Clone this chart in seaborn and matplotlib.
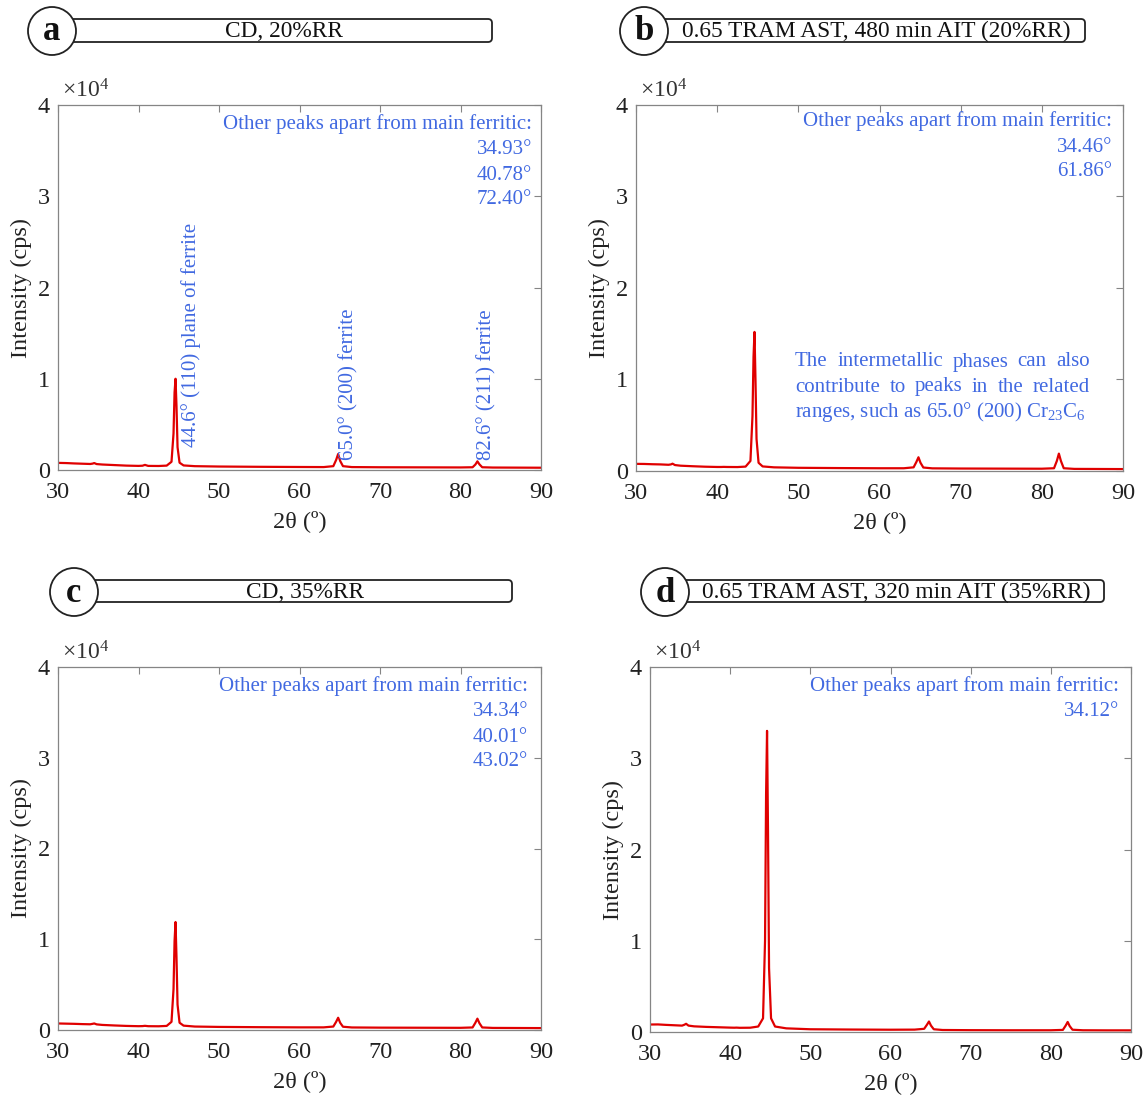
import matplotlib
matplotlib.use("Agg")
import matplotlib.pyplot as plt
import numpy as np
import pandas as pd
import seaborn as sns
from matplotlib.patches import Ellipse, FancyBboxPatch

# ---------------- data ----------------
two_theta = [30, 31, 32, 33, 34, 34.3, 34.5, 34.8, 35.5, 37, 38.5, 40, 40.5, 40.8, 41.2,
             42.5, 43.5, 44.1, 44.35, 44.48, 44.6, 44.72, 44.85, 45.1, 45.6, 47, 50, 55,
             60, 63, 64.2, 64.55, 64.8, 65.05, 65.4, 66.5, 70, 75, 80, 81.5, 81.85, 82.1,
             82.35, 82.7, 84, 87, 90]

int_a = [780, 760, 720, 690, 660, 700, 760, 650, 600, 540, 480, 450, 470, 560, 450,
         440, 480, 900, 4000, 8500, 10000, 7000, 2500, 800, 500, 420, 380, 350,
         330, 320, 420, 1100, 1750, 1000, 420, 320, 300, 290, 280, 300, 600, 950,
         620, 300, 270, 260, 250]

int_b = [780, 770, 740, 720, 680, 720, 800, 650, 580, 520, 470, 440, 440, 450, 440,
         430, 480, 1100, 6000, 12500, 15200, 10000, 3500, 900, 500, 400, 350, 320,
         300, 300, 400, 1000, 1500, 900, 380, 290, 270, 260, 250, 300, 1100, 1900,
         1100, 300, 230, 220, 210]

int_c = [720, 700, 680, 650, 630, 680, 720, 620, 560, 500, 450, 420, 430, 460, 420,
         410, 450, 900, 4500, 9800, 11900, 8000, 2800, 800, 480, 380, 340, 310,
         290, 290, 380, 900, 1350, 800, 360, 280, 260, 250, 240, 280, 800, 1250,
         750, 280, 230, 220, 210]

int_d = [820, 830, 780, 740, 700, 800, 900, 700, 620, 560, 520, 480, 470, 480, 460,
         470, 600, 1500, 10000, 26000, 33000, 22000, 7000, 1500, 600, 400, 300, 270,
         250, 260, 350, 800, 1150, 700, 300, 220, 200, 190, 190, 230, 700, 1100,
         650, 250, 190, 180, 180]

panel_letters = ["a", "b", "c", "d"]
panel_titles = ["CD, 20%RR",
                "0.65 TRAM AST, 480 min AIT (20%RR)",
                "CD, 35%RR",
                "0.65 TRAM AST, 320 min AIT (35%RR)"]
other_peaks = [["34.93°", "40.78°", "72.40°"],
               ["34.46°", "61.86°"],
               ["34.34°", "40.01°", "43.02°"],
               ["34.12°"]]
peak_labels_a = ["44.6° (110) plane of ferrite", "65.0° (200) ferrite", "82.6° (211) ferrite"]
note_b = ["The intermetallic phases can also",
          "contribute to peaks in the related",
          "ranges, such as 65.0° (200) Cr$_{23}$C$_{6}$"]
x_ticks = [30, 40, 50, 60, 70, 80, 90]
y_ticks = [0, 10000, 20000, 30000, 40000]
y_tick_labels = ["0", "1", "2", "3", "4"]

frames = []
for p, vals in zip(panel_letters, [int_a, int_b, int_c, int_d]):
    frames.append(pd.DataFrame({"two_theta": two_theta, "intensity": vals, "panel": p}))
df = pd.concat(frames, ignore_index=True)

# ---------------- style ----------------
sns.set_theme(style="white")
plt.rcParams['font.family'] = ['Liberation Serif', 'DejaVu Serif']
plt.rcParams['mathtext.fontset'] = 'custom'
plt.rcParams['mathtext.rm'] = 'Liberation Serif'
plt.rcParams['mathtext.it'] = 'Liberation Serif:italic'
plt.rcParams['mathtext.bf'] = 'Liberation Serif:bold'

RED = "#E00000"
BLUE = "#4169E1"
SPINE = "#858585"
TXT = "#222222"
FS_TICK = 17.5
FS_NOTE = 15

W, H = 1148, 1098
fig = plt.figure(figsize=(W / 100, H / 100), dpi=100)
fig.patch.set_facecolor("white")

axes_px = [(58, 105, 541, 470), (636, 105, 1123, 471),
           (58, 667, 541, 1030), (650, 667, 1131, 1032)]

axes = []
for (l, t, r, b), p in zip(axes_px, panel_letters):
    ax = fig.add_axes([l / W, 1 - b / H, (r - l) / W, (b - t) / H])
    sns.lineplot(data=df[df.panel == p], x="two_theta", y="intensity", ax=ax,
                 color=RED, lw=1.6, estimator=None, sort=False)
    ax.set_xlim(30, 90)
    ax.set_ylim(0, 40000)
    ax.set_xticks(x_ticks)
    ax.set_xticklabels([str(v) for v in x_ticks])
    ax.set_yticks(y_ticks)
    ax.set_yticklabels(y_tick_labels)
    ax.tick_params(direction="in", length=5, width=0.8, color=SPINE,
                   top=True, right=True, labelsize=FS_TICK, labelcolor=TXT)
    ax.tick_params(axis="x", pad=9)
    ax.tick_params(axis="y", pad=6)
    for s in ax.spines.values():
        s.set_color(SPINE)
        s.set_linewidth(0.9)
    ax.set_xlabel("2θ (º)", fontsize=FS_TICK, color=TXT, labelpad=5)
    ax.set_ylabel("Intensity (cps)", fontsize=FS_TICK, color=TXT, labelpad=4)
    ax.set_facecolor("white")
    axes.append(ax)

# overlay axes in pixel coordinates for headers and annotations
hax = fig.add_axes([0, 0, 1, 1], zorder=5)
hax.set_xlim(0, W)
hax.set_ylim(H, 0)
hax.axis("off")

headers = [  # circle cx, cy, r, rect x0, x1, y0, y1
    (52, 31, 24, 70, 492, 19, 42),
    (644, 31, 24, 660, 1085, 19, 42),
    (74, 592, 24, 92, 512, 580, 602),
    (665, 592, 24, 680, 1104, 580, 602),
]
for (cx, cy, rr, x0, x1, y0, y1), letter, title in zip(headers, panel_letters, panel_titles):
    hax.add_patch(FancyBboxPatch((x0, y0), x1 - x0, y1 - y0,
                                 boxstyle="round,pad=0,rounding_size=4",
                                 fc="white", ec=TXT, lw=1.3))
    hax.add_patch(Ellipse((cx, cy), 2 * rr, 2 * rr, fc="white", ec=TXT, lw=1.3))
    hax.text(cx, cy + 1, letter, fontsize=25, fontweight="bold", ha="center",
             va="center", color="#111111")
    hax.text((cx + rr + x1) / 2, (y0 + y1) / 2 + 1, title, fontsize=16.8,
             ha="center", va="center", color="#111111")

# x10^4 labels
for (l, t, r, b) in axes_px:
    hax.text(l + 4, t - 8, "×10$^{4}$", fontsize=17, ha="left", va="baseline",
             color="#333333")

# other peaks blocks
blocks = [(532, [124, 150, 175, 200]), (1112, [121, 147, 172]),
          (528, [686, 712, 737, 762]), (1119, [686, 712])]
for (xr, ys), peaks in zip(blocks, other_peaks):
    lines = ["Other peaks apart from main ferritic:"] + peaks
    for yy, txt in zip(ys, lines):
        hax.text(xr, yy, txt, fontsize=FS_NOTE, color=BLUE, ha="right", va="center")

# rotated peak labels in panel a
for xx, txt in zip([191, 349, 487], peak_labels_a):
    yb = 447 if xx == 191 else 460
    hax.text(xx, yb, txt, fontsize=FS_NOTE, color=BLUE, rotation=90,
             ha="center", va="bottom")

# justified note in panel b
fig.canvas.draw()
renderer = fig.canvas.get_renderer()
left_x, right_x = 795, 1090
for i, (yy, line) in enumerate(zip([362, 387, 412], note_b)):
    if i == len(note_b) - 1:
        hax.text(left_x, yy, line, fontsize=FS_NOTE, color=BLUE, ha="left", va="center")
        continue
    words = line.split(" ")
    arts = [hax.text(0, yy, w, fontsize=FS_NOTE, color=BLUE, ha="left", va="center")
            for w in words]
    widths = [a.get_window_extent(renderer).width for a in arts]
    gap = (right_x - left_x - sum(widths)) / (len(words) - 1)
    xpos = left_x
    for a, wd in zip(arts, widths):
        a.set_x(xpos)
        xpos += wd + gap

fig.savefig("out.png", dpi=100, facecolor="white")
